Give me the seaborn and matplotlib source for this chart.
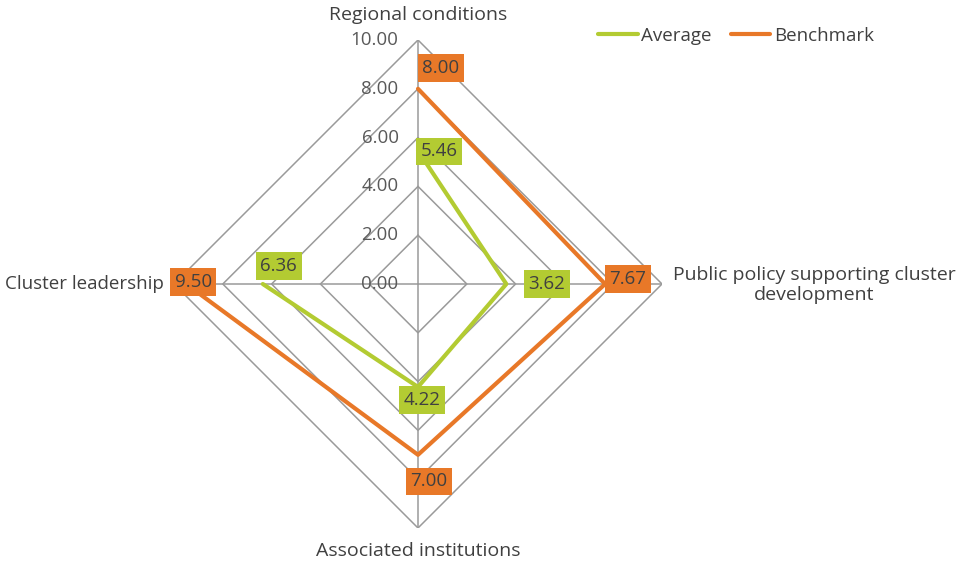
import numpy as np
import pandas as pd
import matplotlib
matplotlib.use("Agg")
import matplotlib.pyplot as plt
import seaborn as sns

categories = ["Regional conditions", "Public policy supporting cluster\ndevelopment",
              "Associated institutions", "Cluster leadership"]
average = [5.46, 3.62, 4.22, 6.36]
benchmark = [8.00, 7.67, 7.00, 9.50]
ticks = [0, 2, 4, 6, 8, 10]
tick_labels = ["0.00", "2.00", "4.00", "6.00", "8.00", "10.00"]

GREEN = "#b3cb32"
ORANGE = "#e87828"
GRID = "#9a9a9a"
TEXT = "#404040"

sns.set_theme(style="white")
plt.rcParams["font.family"] = ["Open Sans", "DejaVu Sans"]

fig = plt.figure(figsize=(9.57, 5.65), dpi=100)
W, H = 957, 565
cx, cy, R = 418, 284, 244
ax = fig.add_axes([(cx - R) / W, (H - cy - R) / H, 2 * R / W, 2 * R / H])
ax.set_xlim(-10, 10)
ax.set_ylim(-10, 10)
ax.axis("off")

n = len(categories)
angles = np.arange(n) * 2 * np.pi / n  # clockwise from top


def to_xy(vals):
    vals = np.asarray(vals, dtype=float)
    x = vals * np.sin(angles)
    y = vals * np.cos(angles)
    return np.append(x, x[0]), np.append(y, y[0])


# grid
for t in ticks[1:]:
    gx, gy = to_xy([t] * n)
    ax.plot(gx, gy, color=GRID, lw=1.1, zorder=1)
for a in angles:
    ax.plot([0, 10 * np.sin(a)], [0, 10 * np.cos(a)], color=GRID, lw=1.1, zorder=1)

# tick labels on top spoke
for t, lab in zip(ticks, tick_labels):
    ax.annotate(lab, (0, t), xytext=(-14, 0), textcoords="offset points",
                ha="right", va="center", fontsize=13.5, color="#595959")

series = {"Average": (average, GREEN), "Benchmark": (benchmark, ORANGE)}
for name, (vals, col) in series.items():
    x, y = to_xy(vals)
    df = pd.DataFrame({"x": x, "y": y, "order": range(len(x))})
    sns.lineplot(data=df, x="x", y="y", sort=False, color=col, lw=3,
                 ax=ax, label=name, zorder=3)

# data labels (offsets in points)
avg_off = [(15, -0.5), (29, 0), (3, -9.5), (11.5, 13)]
bm_off = [(16.5, 15), (16.5, 3.6), (8, -19), (5, 1.4)]
for vals, col, offs in [(average, GREEN, avg_off), (benchmark, ORANGE, bm_off)]:
    for v, a, off in zip(vals, angles, offs):
        ax.annotate(f"{v:.2f}", (v * np.sin(a), v * np.cos(a)), xytext=off,
                    textcoords="offset points", ha="center", va="center",
                    fontsize=13.5, color=TEXT, zorder=5,
                    bbox=dict(boxstyle="square,pad=0.25", fc=col, ec="none"))

# category labels
fs = 14
fig.text(cx / W, 1 - 15 / H, categories[0], ha="center", va="center", fontsize=fs, color=TEXT)
fig.text(814 / W, 1 - 285 / H, categories[1], ha="center", va="center", fontsize=fs,
         color=TEXT, linespacing=1.15)
fig.text(cx / W, 1 - 551 / H, categories[2], ha="center", va="center", fontsize=fs, color=TEXT)
fig.text(164 / W, 1 - 284 / H, categories[3], ha="right", va="center", fontsize=13.5, color=TEXT)

leg = ax.legend(loc="center", bbox_to_anchor=(736 / W, 1 - 36 / H),
                bbox_transform=fig.transFigure, ncol=2, frameon=False,
                fontsize=13.5, handlelength=2.1, handletextpad=0.2, columnspacing=1.0)
for t in leg.get_texts():
    t.set_color(TEXT)

fig.savefig("out.png", dpi=100, facecolor="white")
